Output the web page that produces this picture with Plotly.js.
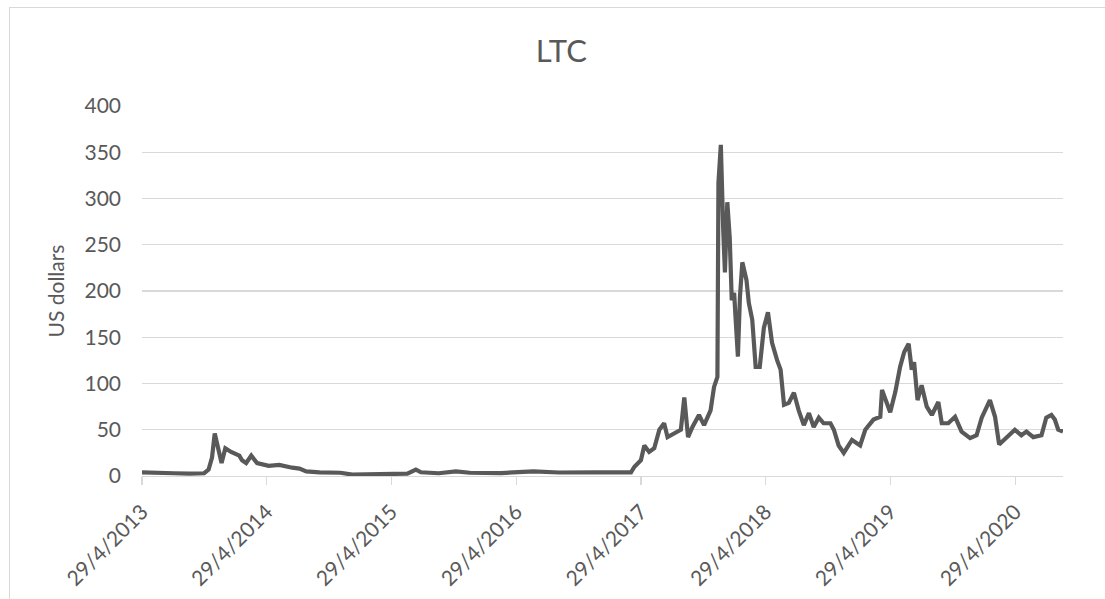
<!DOCTYPE html>
<html>
<head>
<meta charset="utf-8">
<script src="https://cdn.plot.ly/plotly-3.0.1.min.js"></script>
<style>
  html, body { margin: 0; padding: 0; background: #ffffff; }
  #wrap { position: relative; width: 1105px; height: 599px; overflow: hidden; }
  #chart { position: absolute; left: 0; top: 0; width: 1105px; height: 599px; }
  #frame { position: absolute; left: 9px; top: 7px; width: 1200px; height: 700px;
           border: 1px solid #d9d9d9; pointer-events: none; box-sizing: border-box; }
</style>
</head>
<body>
<div id="wrap">
  <div id="chart"></div>
  <div id="frame"></div>
</div>
<script>
// LTC closing price (US dollars)
const dates = [
  '2013-04-29','2013-06-15','2013-08-01','2013-09-15','2013-10-28','2013-11-10','2013-11-20',
  '2013-11-28','2013-12-02','2013-12-07','2013-12-18','2013-12-29','2014-01-15','2014-02-08',
  '2014-02-16','2014-02-28','2014-03-15','2014-04-01','2014-04-16','2014-05-05','2014-06-05',
  '2014-06-25','2014-07-13','2014-08-03','2014-08-23','2014-10-01','2014-12-01','2015-01-05',
  '2015-02-15','2015-04-15','2015-06-15','2015-07-10','2015-07-25','2015-09-15','2015-11-04',
  '2015-12-15','2016-03-15','2016-06-18','2016-09-01','2016-12-15','2017-03-01','2017-03-31',
  '2017-04-10','2017-04-29','2017-05-09','2017-05-23','2017-06-07','2017-06-22','2017-07-06',
  '2017-07-16','2017-08-04','2017-08-24','2017-09-03','2017-09-14','2017-09-27','2017-10-16',
  '2017-10-31','2017-11-19','2017-11-29','2017-12-09','2017-12-12','2017-12-19','2017-12-26',
  '2017-12-31','2018-01-07','2018-01-14','2018-01-20','2018-01-27','2018-01-31','2018-02-07',
  '2018-02-13','2018-02-20','2018-03-04','2018-03-11','2018-03-21','2018-03-31','2018-04-12',
  '2018-04-24','2018-05-06','2018-05-18','2018-06-02','2018-06-12','2018-06-22','2018-07-06',
  '2018-07-21','2018-08-04','2018-08-19','2018-09-03','2018-09-17','2018-10-02','2018-10-16',
  '2018-11-05','2018-11-15','2018-11-29','2018-12-14','2019-01-07','2019-01-31','2019-02-15',
  '2019-03-11','2019-03-31','2019-04-05','2019-04-29','2019-05-14','2019-05-28','2019-06-09',
  '2019-06-22','2019-07-01','2019-07-08','2019-07-18','2019-07-30','2019-08-14','2019-08-29',
  '2019-09-17','2019-09-27','2019-10-16','2019-11-05','2019-11-24','2019-12-19','2020-01-07',
  '2020-01-22','2020-02-15','2020-03-01','2020-03-13','2020-04-04','2020-04-28','2020-05-17',
  '2020-06-01','2020-06-21','2020-07-15','2020-07-29','2020-08-13','2020-08-23','2020-09-02',
  '2020-09-16'
];
const prices = [
  4, 3, 3, 2.5, 3, 7, 20,
  46, 40, 30, 14, 30, 26, 22,
  17, 14, 22, 14, 13, 11, 12,
  10, 9, 8, 5, 4, 3.5, 1.5,
  2, 1.8, 2.5, 7, 4, 3, 5,
  3.5, 3.2, 5, 3.8, 4, 4, 4,
  10, 17, 33, 26, 30, 50, 57,
  42, 46, 50, 85, 42, 53, 66,
  55, 71, 96, 107, 317, 358, 266,
  220, 296, 258, 190, 198, 172, 129,
  194, 231, 212, 187, 169, 118, 118,
  160, 177, 144, 125, 115, 77, 79,
  90, 71, 55, 68, 53, 63, 57,
  57, 50, 33, 25, 39, 33, 50,
  61, 64, 93, 69, 91, 118, 134,
  143, 115, 123, 82, 98, 75, 66,
  80, 57, 57, 64, 48, 41, 44,
  63, 82, 64, 34, 42, 50, 44,
  48, 42, 44, 63, 66, 61, 50,
  48
];
const chartTitle = 'LTC';
const yTitle = 'US dollars';
const tickDates = ['2013-04-29','2014-04-29','2015-04-29','2016-04-29','2017-04-29','2018-04-29','2019-04-29','2020-04-29'];
const tickLabels = ['29/4/2013','29/4/2014','29/4/2015','29/4/2016','29/4/2017','29/4/2018','29/4/2019','29/4/2020'];
const yTicks = [0, 50, 100, 150, 200, 250, 300, 350, 400];

const FONT = 'Lato, "Open Sans", "DejaVu Sans", sans-serif';
const trace = {
  x: dates, y: prices, type: 'scatter', mode: 'lines',
  line: {color: '#595959', width: 4.2, shape: 'linear'},
  hoverinfo: 'skip'
};
const layout = {
  width: 1105, height: 599,
  margin: {l: 142, r: 42, t: 106, b: 123, pad: 0},
  paper_bgcolor: '#ffffff', plot_bgcolor: '#ffffff',
  showlegend: false,
  font: {family: FONT, color: '#595959', size: 21},
  title: {text: chartTitle, font: {family: FONT, size: 31, color: '#595959'},
          x: 0.508, xanchor: 'center', xref: 'container', y: 0.915, yanchor: 'middle', yref: 'container'},
  xaxis: {
    type: 'date', range: ['2013-04-29', '2020-09-16'],
    tickmode: 'array', tickvals: tickDates, ticktext: tickLabels,
    tickangle: -45, ticks: 'outside', ticklen: 8, tickwidth: 1.3, tickcolor: '#d9d9d9',
    ticklabelstandoff: 6,
    showgrid: false, zeroline: false, showline: true, linecolor: '#d9d9d9', linewidth: 1.3,
    tickfont: {family: FONT, size: 21, color: '#595959'},
    fixedrange: true
  },
  yaxis: {
    range: [0, 400], tickmode: 'array', tickvals: yTicks,
    showgrid: true, gridcolor: '#d9d9d9', gridwidth: 1.3,
    zeroline: false, showline: false, ticks: '', ticklabelstandoff: 20,
    tickfont: {family: FONT, size: 21, color: '#595959'},
    title: {text: yTitle, font: {family: FONT, size: 21, color: '#595959'}, standoff: 14},
    fixedrange: true
  }
};
Plotly.newPlot('chart', [trace], layout, {displayModeBar: false, staticPlot: true});
</script>
</body>
</html>
